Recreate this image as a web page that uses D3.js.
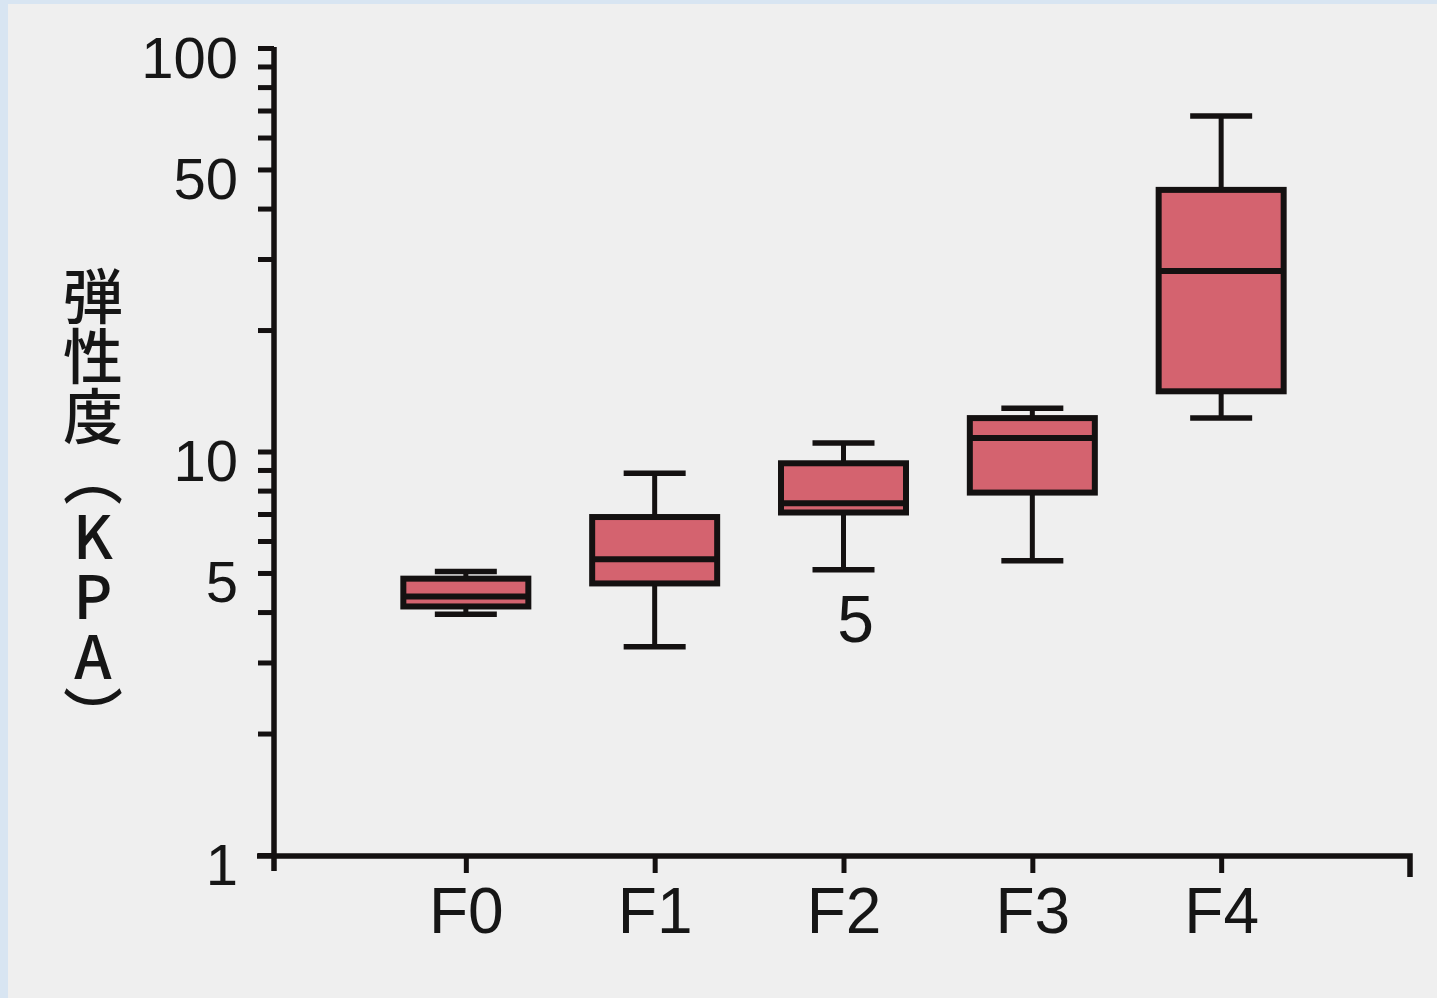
<!DOCTYPE html>
<html>
<head>
<meta charset="utf-8">
<script src="https://cdn.jsdelivr.net/npm/d3@7/dist/d3.min.js"></script>
<style>
  html, body { margin: 0; padding: 0; background: #efefef; }
  svg { display: block; }
</style>
</head>
<body>
<svg id="chart" width="1437" height="998"></svg>
<script>
// Liver stiffness (kPa) by fibrosis stage, box-and-whisker summary
const categories   = ["F0", "F1", "F2", "F3", "F4"];
const whiskerLow   = [3.95, 3.28, 5.09, 5.36, 12.1];
const q1           = [4.13, 4.71, 7.06, 7.91, 14.1];
const median       = [4.37, 5.41, 7.44, 10.8, 28.0];
const q3           = [4.84, 6.88, 9.35, 12.1, 44.5];
const whiskerHigh  = [5.04, 8.83, 10.5, 12.8, 67.8];

const majorTicks = [1, 5, 10, 50, 100];
const minorTicks = [2, 3, 4, 6, 7, 8, 9, 20, 30, 40, 60, 70, 80, 90];

const yTitle = "弾性度（KPA）";
const notes = [{ cat: "F2", text: "5" }];

const W = 1437, H = 998;
const ink = "#141111";
const boxFill = "#d4636f";

const svg = d3.select("#chart");

// paper background with the tinted top/left edges
svg.append("rect").attr("width", W).attr("height", H).attr("fill", "#efefef");
svg.append("rect").attr("width", W).attr("height", 4).attr("fill", "#d8e5f2");
svg.append("rect").attr("width", 8).attr("height", H).attr("fill", "#d8e5f2");

const y = d3.scaleLog().domain([1, 100]).range([855, 48]);
const x = d3.scalePoint().domain(categories).range([277, 1410]).padding(1);

const axisX0 = 274;        // y-axis position
const axisY0 = y(1) + 1;   // x-axis position

// y axis with log minor ticks, labels only on the major values
const yAxis = d3.axisLeft(y)
  .tickValues(majorTicks.concat(minorTicks))
  .tickSize(16)
  .tickPadding(20)
  .tickFormat(d => majorTicks.includes(d) ? d3.format("d")(d) : "");

const gy = svg.append("g").attr("transform", `translate(${axisX0},0)`).call(yAxis);
gy.select(".domain").remove();
gy.selectAll(".tick line").attr("stroke", ink).attr("stroke-width", 5);
gy.selectAll(".tick text")
  .attr("fill", "#161616")
  .attr("dy", "0.5em")
  .style("font-family", "'Liberation Sans', Arial, sans-serif")
  .style("font-size", "58px");

// x axis
const xAxis = d3.axisBottom(x).tickSize(17).tickPadding(15);
const gx = svg.append("g").attr("transform", `translate(0,${axisY0})`).call(xAxis);
gx.select(".domain").remove();
gx.selectAll(".tick line").attr("stroke", ink).attr("stroke-width", 5);
gx.selectAll(".tick text")
  .attr("fill", "#161616")
  .style("font-family", "'Liberation Sans', Arial, sans-serif")
  .style("font-size", "64px");

// axis lines: vertical runs a little below the baseline, horizontal ends in a drop tick
svg.append("line")
  .attr("x1", axisX0).attr("x2", axisX0)
  .attr("y1", y(100) - 1).attr("y2", axisY0 + 15)
  .attr("stroke", ink).attr("stroke-width", 5.5);
const xEnd = x.range()[1];
svg.append("path")
  .attr("d", `M${axisX0 - 17},${axisY0}H${xEnd}V${axisY0 + 21}`)
  .attr("fill", "none").attr("stroke", ink).attr("stroke-width", 5.5);

// boxes
const boxW = 125, capW = 62;
const rows = categories.map((c, i) => ({
  cat: c, lo: whiskerLow[i], q1: q1[i], med: median[i], q3: q3[i], hi: whiskerHigh[i]
}));

const g = svg.append("g");
const b = g.selectAll("g.box").data(rows).join("g").attr("class", "box");

b.append("line")
  .attr("x1", d => x(d.cat)).attr("x2", d => x(d.cat))
  .attr("y1", d => y(d.hi)).attr("y2", d => y(d.lo))
  .attr("stroke", ink).attr("stroke-width", 5);
b.append("line")
  .attr("x1", d => x(d.cat) - capW / 2).attr("x2", d => x(d.cat) + capW / 2)
  .attr("y1", d => y(d.hi)).attr("y2", d => y(d.hi))
  .attr("stroke", ink).attr("stroke-width", 5.5);
b.append("line")
  .attr("x1", d => x(d.cat) - capW / 2).attr("x2", d => x(d.cat) + capW / 2)
  .attr("y1", d => y(d.lo)).attr("y2", d => y(d.lo))
  .attr("stroke", ink).attr("stroke-width", 5.5);
b.append("rect")
  .attr("x", d => x(d.cat) - boxW / 2)
  .attr("width", boxW)
  .attr("y", d => y(d.q3))
  .attr("height", d => y(d.q1) - y(d.q3))
  .attr("fill", boxFill)
  .attr("stroke", ink).attr("stroke-width", 6);
b.append("line")
  .attr("x1", d => x(d.cat) - boxW / 2).attr("x2", d => x(d.cat) + boxW / 2)
  .attr("y1", d => y(d.med)).attr("y2", d => y(d.med))
  .attr("stroke", ink).attr("stroke-width", 6);

// note beneath a box
svg.selectAll("text.note").data(notes).join("text")
  .attr("class", "note")
  .attr("x", d => x(d.cat) + 12)
  .attr("y", d => y(whiskerLow[categories.indexOf(d.cat)]) + 72)
  .attr("text-anchor", "middle")
  .attr("fill", "#161616")
  .style("font-family", "'Liberation Sans', Arial, sans-serif")
  .style("font-size", "66px")
  .text(d => d.text);

// vertical axis title
svg.append("text")
  .attr("x", 93)
  .attr("y", 266)
  .attr("fill", "#161616")
  .style("font-family", "'Noto Sans CJK JP', sans-serif")
  .style("font-weight", "500")
  .style("font-size", "60px")
  .style("writing-mode", "vertical-rl")
  .style("text-orientation", "upright")
  .text(yTitle);
</script>
</body>
</html>
